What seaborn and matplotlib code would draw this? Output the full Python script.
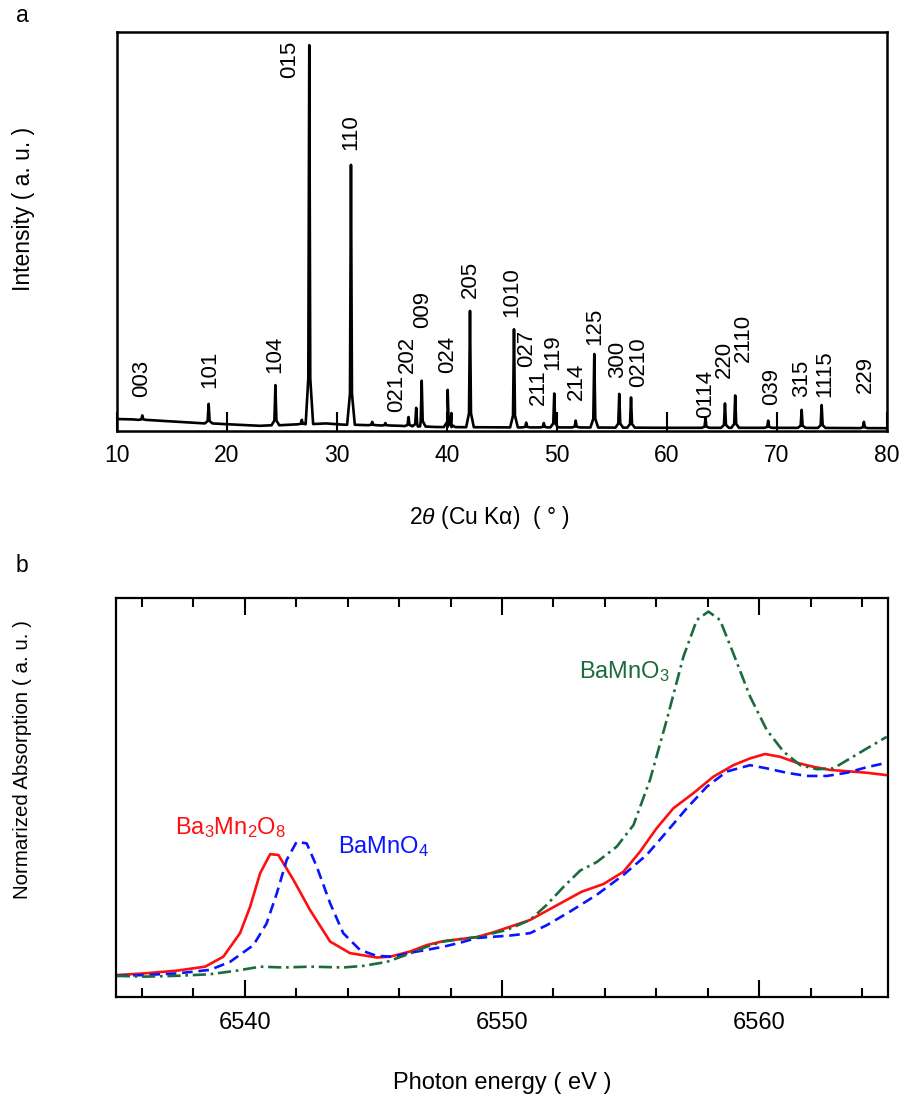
import numpy as np
import pandas as pd
import matplotlib
matplotlib.use("Agg")
import matplotlib.pyplot as plt
import seaborn as sns

# ---------------- data: panel a (XRD) ----------------
peak_pos = [12.3, 18.33, 24.4, 26.8, 27.48, 31.27, 33.2, 34.4, 36.5, 37.2, 37.7,
            40.06, 40.4, 42.09, 46.09, 47.2, 48.8, 49.75, 51.7, 53.39, 55.66,
            56.73, 63.5, 65.27, 66.2, 69.2, 72.24, 74.06, 77.9]
peak_int = [3.9, 6.8, 11.5, 2.8, 96.7, 66.7, 2.3, 2.0, 3.5, 5.8, 12.6,
            10.3, 4.5, 30.1, 25.5, 2.1, 2.0, 9.4, 2.6, 19.3, 9.3,
            8.4, 3.2, 6.9, 8.9, 2.6, 5.3, 6.5, 2.3]
base_x = [10, 11.5, 15, 17.5, 20, 23, 26.0, 29, 30.5, 32.5, 35.8, 39, 45, 51, 60, 71, 80]
base_y = [3.0, 2.9, 2.4, 2.0, 1.7, 1.3, 1.6, 1.9, 1.6, 1.5, 1.3, 1.0, 0.9, 0.9, 0.8, 0.8, 0.7]

hkl_labels = ["003", "101", "104", "015", "110", "021", "202", "009", "024", "205",
              "1010", "027", "211", "119", "214", "125", "300", "0210", "0114",
              "220", "2110", "039", "315", "1115", "229"]
hkl_x = [12.27, 18.45, 24.36, 25.73, 31.27, 35.45, 36.36, 37.82, 40.09, 42.09,
         45.9, 47.27, 48.27, 49.64, 51.73, 53.45, 55.5, 57.4, 63.55,
         65.2, 66.9, 69.55, 72.27, 74.36, 78.0]
hkl_y = [8.5, 10.8, 14.5, 88.5, 70.4, 4.8, 14.5, 25.8, 14.5, 33.3,
         28.6, 16.0, 6.5, 15.3, 7.8, 21.6, 13.3, 11.0, 3.3,
         13.3, 17.3, 6.5, 8.5, 8.5, 9.5]

xrd_ticks = [10, 20, 30, 40, 50, 60, 70, 80]

# ---------------- data: panel b (XANES) ----------------
e_red = [6535.03, 6536.06, 6537.36, 6538.46, 6539.17, 6539.82, 6540.21, 6540.6, 6540.99,
         6541.31, 6541.9, 6542.54, 6543.32, 6544.09, 6545.13, 6545.65, 6546.43, 6547.07,
         6547.72, 6548.37, 6549.02, 6549.66, 6550.31, 6551.09, 6552.39, 6553.1, 6553.94,
         6554.72, 6555.36, 6556.01, 6556.66, 6557.44, 6558.21, 6558.99, 6559.64, 6560.22,
         6560.81, 6561.46, 6562.1, 6562.75, 6563.4, 6564.18, 6564.95]
a_red = [5.5, 5.9, 6.6, 7.6, 10.1, 16.0, 22.6, 31.0, 35.8,
         35.6, 29.3, 21.8, 13.9, 11.0, 9.9, 10.1, 11.4, 13.0,
         14.0, 14.5, 15.0, 16.2, 17.6, 19.3, 23.9, 26.4, 28.3,
         31.4, 36.4, 42.3, 47.3, 51.1, 55.2, 58.1, 59.8, 60.9,
         60.2, 58.7, 57.7, 56.9, 56.6, 56.2, 55.6]

e_blue = [6535.03, 6536.06, 6537.36, 6538.65, 6539.43, 6540.34, 6540.85, 6541.25, 6541.63,
          6542.02, 6542.41, 6542.8, 6543.32, 6543.83, 6544.48, 6545.13, 6545.78, 6546.43,
          6547.07, 6547.72, 6548.37, 6549.02, 6550.31, 6551.09, 6551.74, 6552.64, 6553.68,
          6554.72, 6555.62, 6556.4, 6557.18, 6557.96, 6558.73, 6559.64, 6560.29, 6561.06,
          6561.84, 6562.62, 6563.4, 6564.18, 6564.95]
a_blue = [5.3, 5.5, 5.9, 6.8, 8.8, 13.0, 18.4, 26.0, 34.3,
          38.9, 38.5, 32.7, 23.5, 16.0, 11.8, 10.3, 10.1, 11.1,
          11.8, 12.6, 13.6, 14.8, 15.4, 16.0, 18.0, 21.4, 25.6,
          30.6, 35.6, 41.4, 47.3, 52.7, 56.5, 58.1, 57.3, 56.2,
          55.4, 55.4, 56.2, 57.6, 58.7]

e_green = [6535.03, 6536.06, 6537.36, 6538.65, 6539.69, 6540.6, 6541.5, 6542.54, 6543.83,
           6544.61, 6545.52, 6546.43, 6547.07, 6547.72, 6548.37, 6549.02, 6550.18, 6551.09,
           6551.74, 6552.39, 6553.04, 6553.68, 6554.46, 6555.11, 6555.75, 6556.4, 6557.05,
           6557.57, 6558.02, 6558.47, 6558.99, 6559.64, 6560.29, 6560.94, 6561.59, 6562.23,
           6562.88, 6563.53, 6564.18, 6564.95]
a_green = [5.3, 5.1, 5.3, 5.7, 6.6, 7.6, 7.4, 7.6, 7.4,
           7.8, 8.8, 10.9, 12.6, 13.9, 14.5, 15.0, 16.8, 19.3,
           23.1, 27.6, 31.7, 33.8, 37.7, 43.1, 54.4, 69.4, 85.3,
           94.5, 96.6, 94.5, 86.1, 75.3, 66.9, 61.5, 58.1, 57.1,
           57.3, 59.8, 62.3, 65.2]

xas_major = [6540, 6550, 6560]

# ---------------- style ----------------
sns.set_theme(style="white")
plt.rcParams["font.family"] = ["Liberation Sans", "DejaVu Sans"]
plt.rcParams["mathtext.fontset"] = "custom"
plt.rcParams["mathtext.rm"] = "Liberation Sans"
plt.rcParams["mathtext.it"] = "Liberation Sans:italic"
plt.rcParams["axes.unicode_minus"] = False
plt.rcParams["text.color"] = "black"
plt.rcParams["axes.labelcolor"] = "black"
plt.rcParams["xtick.color"] = "black"
plt.rcParams["ytick.color"] = "black"
plt.rcParams["xtick.labelcolor"] = "black"

RED = "#ff1010"
BLUE = "#0a14ff"
GREEN = "#1b6b3c"

fig = plt.figure(figsize=(9.03, 11.03), dpi=100)
ax1 = fig.add_axes([117 / 903, 1 - 431 / 1103, 770 / 903, 399 / 1103])
ax2 = fig.add_axes([116 / 903, 1 - 997 / 1103, 772 / 903, 399 / 1103])

# ---------- panel a ----------
pts_x, pts_y = [], []
for bx, by in zip(base_x, base_y):
    if min(abs(bx - p) for p in peak_pos) > 0.4:
        pts_x.append(bx)
        pts_y.append(by)
for p, h in zip(peak_pos, peak_int):
    b = float(np.interp(p, base_x, base_y))
    knee = b + 0.12 * (h - b)
    pts_x += [p - 0.35, p - 0.09, p, p + 0.09, p + 0.35]
    pts_y += [b, knee, h, knee, b]
order = np.argsort(pts_x, kind="stable")
xrd = pd.DataFrame({"two_theta": np.array(pts_x)[order], "intensity": np.array(pts_y)[order]})
sns.lineplot(data=xrd, x="two_theta", y="intensity", ax=ax1, color="black",
             linewidth=1.9, estimator=None, sort=False)

for t, x, y in zip(hkl_labels, hkl_x, hkl_y):
    ax1.text(x, y, t, rotation=90, ha="center", va="bottom", fontsize=16, color="black")

ax1.set_xlim(10, 80)
ax1.set_ylim(0, 100)
ax1.set_xticks(xrd_ticks)
ax1.set_yticks([])
ax1.tick_params(axis="x", direction="in", length=14, width=1.5, labelsize=16.5,
                pad=9, bottom=True, top=False, color="black", labelcolor="black")
for s in ax1.spines.values():
    s.set_linewidth(1.8)
    s.set_color("black")
ax1.set_ylabel("Intensity ( a. u. )", fontsize=16.5, color="black")
ax1.yaxis.set_label_coords(-0.121, 0.556)
ax1.yaxis.label.set_verticalalignment("center")
ax1.set_xlabel(r"2$\theta$ (Cu K$\mathrm{\alpha}$)  ( ° )", fontsize=16.5, color="black")
ax1.xaxis.set_label_coords(0.484, -0.218)
ax1.xaxis.label.set_verticalalignment("center")

# ---------- panel b ----------
sns.lineplot(x=e_red, y=a_red, ax=ax2, color=RED, linewidth=1.9)
sns.lineplot(x=e_blue, y=a_blue, ax=ax2, color=BLUE, linewidth=1.9, linestyle=(0, (4, 2.2)))
sns.lineplot(x=e_green, y=a_green, ax=ax2, color=GREEN, linewidth=1.9,
             linestyle=(0, (5, 1.8, 1, 1.8)))

ax2.text(6537.3, 42.4, r"Ba$_3$Mn$_2$O$_8$", color=RED, fontsize=17, ha="left", va="center")
ax2.text(6543.63, 37.6, r"BaMnO$_4$", color=BLUE, fontsize=17, ha="left", va="center")
ax2.text(6553.0, 81.5, r"BaMnO$_3$", color=GREEN, fontsize=17, ha="left", va="center")

ax2.set_xlim(6535, 6565)
ax2.set_ylim(0, 100)
ax2.set_xticks(xas_major)
ax2.xaxis.set_minor_locator(matplotlib.ticker.MultipleLocator(2))
ax2.set_yticks([])
ax2.tick_params(axis="x", which="major", direction="in", length=12, width=1.5,
                labelsize=17, pad=11, bottom=True, top=True, color="black", labelcolor="black")
ax2.tick_params(axis="x", which="minor", direction="in", length=6.5, width=1.5,
                bottom=True, top=True, color="black")
for s in ax2.spines.values():
    s.set_linewidth(1.6)
    s.set_color("black")
ax2.set_ylabel("Normarized Absorption ( a. u. )", fontsize=14.8, color="black")
ax2.yaxis.set_label_coords(-0.1205, 0.596)
ax2.yaxis.label.set_verticalalignment("center")
ax2.set_xlabel("Photon energy ( eV )", fontsize=17, color="black")
ax2.xaxis.set_label_coords(0.5, -0.2155)
ax2.xaxis.label.set_verticalalignment("center")

fig.text(22 / 903, 1 - 15 / 1103, "a", fontsize=16.5, ha="center", va="center", color="black")
fig.text(22 / 903, 1 - 565 / 1103, "b", fontsize=16.5, ha="center", va="center", color="black")

fig.savefig("out.png", dpi=100, facecolor="white")
